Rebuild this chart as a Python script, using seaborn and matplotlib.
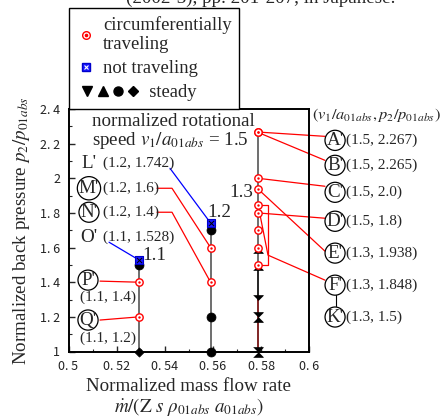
import matplotlib
matplotlib.use("Agg")
import matplotlib.pyplot as plt
from matplotlib.lines import Line2D
from matplotlib.legend_handler import HandlerBase, HandlerTuple
from matplotlib.ticker import MultipleLocator, FixedLocator
import seaborn as sns

# mass flow rate of the three operating lines
col_flow = [0.5293, 0.5590, 0.5787]

# circumferentially traveling points (column index, p2/p01abs)
trav_col = [2, 2, 2, 2, 2, 2, 2, 2, 2, 1, 1, 0, 0]
trav_p = [2.267, 2.265, 2.0, 1.938, 1.848, 1.8, 1.7, 1.6, 1.5, 1.6, 1.4, 1.4, 1.2]

# not traveling points
nt_col = [1, 0]
nt_p = [1.742, 1.528]

# steady points
st_col = [0, 0, 1, 1, 1, 2, 2, 2, 2, 2, 2, 2]
st_p = [1.5, 1.0, 1.7, 1.2, 1.0, 1.6, 1.5, 1.3, 1.2, 1.2, 1.0, 1.0]
st_kind = ["circle", "diamond", "circle", "circle", "circle",
           "up", "up", "down", "down", "up", "down", "up"]

# vertical operating lines: column, p from, p to, colour
seg_col = [0, 1, 2, 2, 2]
seg_lo = [1.0, 1.0, 1.5, 1.3, 1.0]
seg_hi = [1.528, 1.742, 2.267, 1.5, 1.3]
seg_color = ["#555555", "#555555", "#555555", "black", "#6b0000"]

# named points (label, v1/a01abs, p2/p01abs, column)
pt_label = ["A'", "B'", "C'", "D'", "E'", "F'", "K'", "L'", "M'", "N'", "O'", "P'", "Q'"]
pt_speed = [1.5, 1.5, 1.5, 1.5, 1.3, 1.3, 1.3, 1.2, 1.2, 1.2, 1.1, 1.1, 1.1]
pt_p = [2.267, 2.265, 2.0, 1.8, 1.938, 1.848, 1.5, 1.742, 1.6, 1.4, 1.528, 1.4, 1.2]
pt_col = [2, 2, 2, 2, 2, 2, 2, 1, 1, 1, 0, 0, 0]
pt_circled = [True] * 7 + [False, True, True, False, True, True]

# layout of the labels (data coords)
lab_xy = [(0.6107, 2.219), (0.6107, 2.075), (0.6107, 1.919), (0.6107, 1.752),
          (0.6107, 1.568), (0.6107, 1.383), (0.6107, 1.199),
          (0.5083, 2.0865), (0.5085, 1.9424), (0.5085, 1.804), (0.5083, 1.660),
          (0.5081, 1.4121), (0.5081, 1.1816)]
val_xy = [(0.6152, 2.219), (0.6152, 2.075), (0.6152, 1.919), (0.6152, 1.752),
          (0.6152, 1.568), (0.6152, 1.383), (0.6152, 1.199),
          (0.5143, 2.0865), (0.5143, 1.9424), (0.5143, 1.804), (0.5143, 1.660),
          (0.5164, 1.3141), (0.5164, 1.0778)]
val_ha = ["left"] * 11 + ["center", "center"]
leader_via = [[(0.6065, 2.2421)], [(0.6065, 2.1037)], [(0.6065, 1.9539)],
              [(0.6065, 1.7694)], [(0.6065, 1.5793)],
              [(0.6065, 1.4121), (0.58285, 1.5562)], None,
              [(0.54215, 2.0576)], [(0.53675, 1.9424), (0.54298, 1.9424)],
              [(0.53675, 1.804), (0.54298, 1.804)], [(0.51682, 1.6311)],
              [(0.51308, 1.4063)], [(0.51308, 1.1816)]]
leader_color = ["red"] * 7 + ["blue", "red", "red", "blue", "red", "red"]

xticks = [0.5, 0.52, 0.54, 0.56, 0.58, 0.6]
xtick_labels = ["0. 5", "0. 52", "0. 54", "0. 56", "0. 58", "0. 6"]
yticks = [1.0, 1.2, 1.4, 1.6, 1.8, 2.0, 2.2, 2.4]
ytick_labels = ["1", "1. 2", "1. 4", "1. 6", "1. 8", "2", "2. 2", "2. 4"]

sns.set_style("ticks")
plt.rcParams["font.family"] = ["Liberation Serif", "DejaVu Serif"]
plt.rcParams["mathtext.fontset"] = "stix"

FS = 13.7
half_down = [(-1, 1), (1, 1), (0, 0)]
half_up = [(-1, -1), (1, -1), (0, 0)]
kind_marker = {"circle": "o", "diamond": "D", "up": half_up, "down": half_down}
kind_size = {"circle": 42, "diamond": 22, "up": 50, "down": 50}

fig = plt.figure(figsize=(4.43, 4.18), dpi=100)
ax = fig.add_axes([68.5 / 443, 1 - 351.5 / 418, 240.8 / 443, 242.5 / 418])

# operating lines
for c, lo, hi, colr in zip(seg_col, seg_lo, seg_hi, seg_color):
    ax.plot([col_flow[c], col_flow[c]], [lo, hi], color=colr, lw=1.2, zorder=2,
            clip_on=False)

# leader lines
for i, via in enumerate(leader_via):
    if via is None:
        continue
    xs = [p[0] for p in via] + [col_flow[pt_col[i]]]
    ys = [p[1] for p in via] + [pt_p[i]]
    ax.plot(xs, ys, color=leader_color[i], lw=0.9, zorder=2, clip_on=False)

# bracket around the 1.3 group
bx = 0.58285
ax.plot([col_flow[2], bx, bx, col_flow[2]], [1.848, 1.848, 1.5, 1.5],
        color="red", lw=0.9, zorder=2, clip_on=False)
# F' - K' connector
ax.plot([0.61109, 0.61109], [1.3256, 1.2622], color="black", lw=0.8,
        clip_on=False)

# steady markers
for kind in ["circle", "diamond", "up", "down"]:
    xs = [col_flow[c] for c, k in zip(st_col, st_kind) if k == kind]
    ys = [p for p, k in zip(st_p, st_kind) if k == kind]
    sns.scatterplot(x=xs, y=ys, marker=kind_marker[kind], s=kind_size[kind],
                    color="black", edgecolor="black", linewidth=0.5, ax=ax,
                    zorder=3, clip_on=False)

# not traveling
nx = [col_flow[c] for c in nt_col]
sns.scatterplot(x=nx, y=nt_p, marker="s", s=34, color="#1a1aff",
                edgecolor="#0000cc", linewidth=0.8, ax=ax, zorder=4)
sns.scatterplot(x=nx, y=nt_p, marker="x", s=14, color="black", linewidth=0.7,
                ax=ax, zorder=5)

# circumferentially traveling
tx = [col_flow[c] for c in trav_col]
sns.scatterplot(x=tx, y=trav_p, marker="o", s=28, color="white",
                edgecolor="red", linewidth=1.0, ax=ax, zorder=5)
sns.scatterplot(x=tx, y=trav_p, marker="o", s=3, color="red",
                edgecolor="red", linewidth=0, ax=ax, zorder=6)

# labels
for i, lab in enumerate(pt_label):
    bbox = None
    if pt_circled[i]:
        bbox = dict(boxstyle="circle,pad=0.08", fc="white", ec="black", lw=0.9)
    ax.text(lab_xy[i][0], lab_xy[i][1], lab, fontsize=FS, ha="center",
            va="center", bbox=bbox, clip_on=False, zorder=7)
    ax.text(val_xy[i][0], val_xy[i][1], f"({pt_speed[i]}, {pt_p[i]})",
            fontsize=11, ha=val_ha[i], va="center", clip_on=False, zorder=7)

ax.text(0.6011, 2.3631, r"$(v_1/a_{01abs}, p_2/p_{01abs})$", fontsize=11.8,
        ha="left", va="center", clip_on=False)
ax.text(0.5097, 2.378, "normalized rotational\nspeed $v_1/a_{01abs}$ = 1.5",
        fontsize=FS, ha="left", va="top", linespacing=1.0)
ax.text(0.5766, 1.9193, "1.3", fontsize=FS, ha="right", va="center")
ax.text(0.5625, 1.804, "1.2", fontsize=FS, ha="center", va="center")
ax.text(0.5355, 1.5562, "1.1", fontsize=FS, ha="center", va="center")

# axes
ax.set_xlim(0.5, 0.6)
ax.set_ylim(1.0, 2.4)
ax.xaxis.set_major_locator(FixedLocator(xticks))
ax.yaxis.set_major_locator(FixedLocator(yticks))
ax.set_xticklabels(xtick_labels, fontfamily="Noto Sans CJK JP", fontsize=9,
                   color="#222222")
ax.set_yticklabels(ytick_labels, fontfamily="Noto Sans CJK JP", fontsize=9,
                   color="#222222")
ax.xaxis.set_minor_locator(MultipleLocator(0.01))
ax.yaxis.set_minor_locator(MultipleLocator(0.1))
ax.tick_params(which="both", direction="in", top=False, right=False)
ax.tick_params(which="major", length=4, width=1)
ax.tick_params(which="minor", length=2.5, width=0.8)
ax.tick_params(axis="x", which="major", pad=6)
ax.tick_params(axis="y", which="major", pad=6)
for s in ax.spines.values():
    s.set_linewidth(1.4)
    s.set_color("black")

ax.set_xlabel("Normalized mass flow rate\n"
              r"$\dot{m}/(\mathrm{Z}\ s\ \rho_{01abs}\ a_{01abs})$",
              fontsize=FS, linespacing=1.05, labelpad=4)
ax.set_ylabel(r"Normalized back pressure $p_2/p_{01abs}$", fontsize=FS)
ax.yaxis.set_label_coords(-0.15, 0.5)


class SteadyHandler(HandlerBase):
    def create_artists(self, legend, orig_handle, xdescent, ydescent,
                       width, height, fontsize, trans):
        y = height / 2 - ydescent
        arts = []
        for i, m in enumerate(["v", "^", "o", "D"]):
            arts.append(Line2D([-xdescent + 7.5 + 11 * i], [y], marker=m,
                               ms=6.5 if m != "D" else 5.5, color="black",
                               ls="none", transform=trans))
        return arts


h_trav = (Line2D([], [], marker="o", ms=5.5, mfc="white", mec="red", mew=1.0,
                 ls="none"),
          Line2D([], [], marker="o", ms=1.6, color="red", ls="none"))
h_nt = (Line2D([], [], marker="s", ms=6, mfc="#1a1aff", mec="#0000cc",
               ls="none"),
        Line2D([], [], marker="x", ms=3.5, color="white", mew=0.8, ls="none"))
h_st = Line2D([], [], ls="none")

leg = fig.legend([h_trav, h_nt, h_st],
                 ["circumferentially\ntraveling", "not traveling",
                  "          steady"],
                 handler_map={tuple: HandlerTuple(ndivide=1),
                              h_st: SteadyHandler()},
                 loc="upper left", bbox_to_anchor=(69 / 443, 1 - 8 / 418),
                 borderaxespad=0, fontsize=13.4, handlelength=1.0,
                 handletextpad=0.4, labelspacing=0.38, borderpad=0.42,
                 fancybox=False, framealpha=1, edgecolor="black")
leg.get_frame().set_linewidth(1.0)

fig.text(395 / 443, 1 - 3 / 418, "(2002-3), pp. 201-207, in Japanese.",
         fontsize=FS, ha="right", va="baseline")

fig.savefig("out.png", dpi=100)
